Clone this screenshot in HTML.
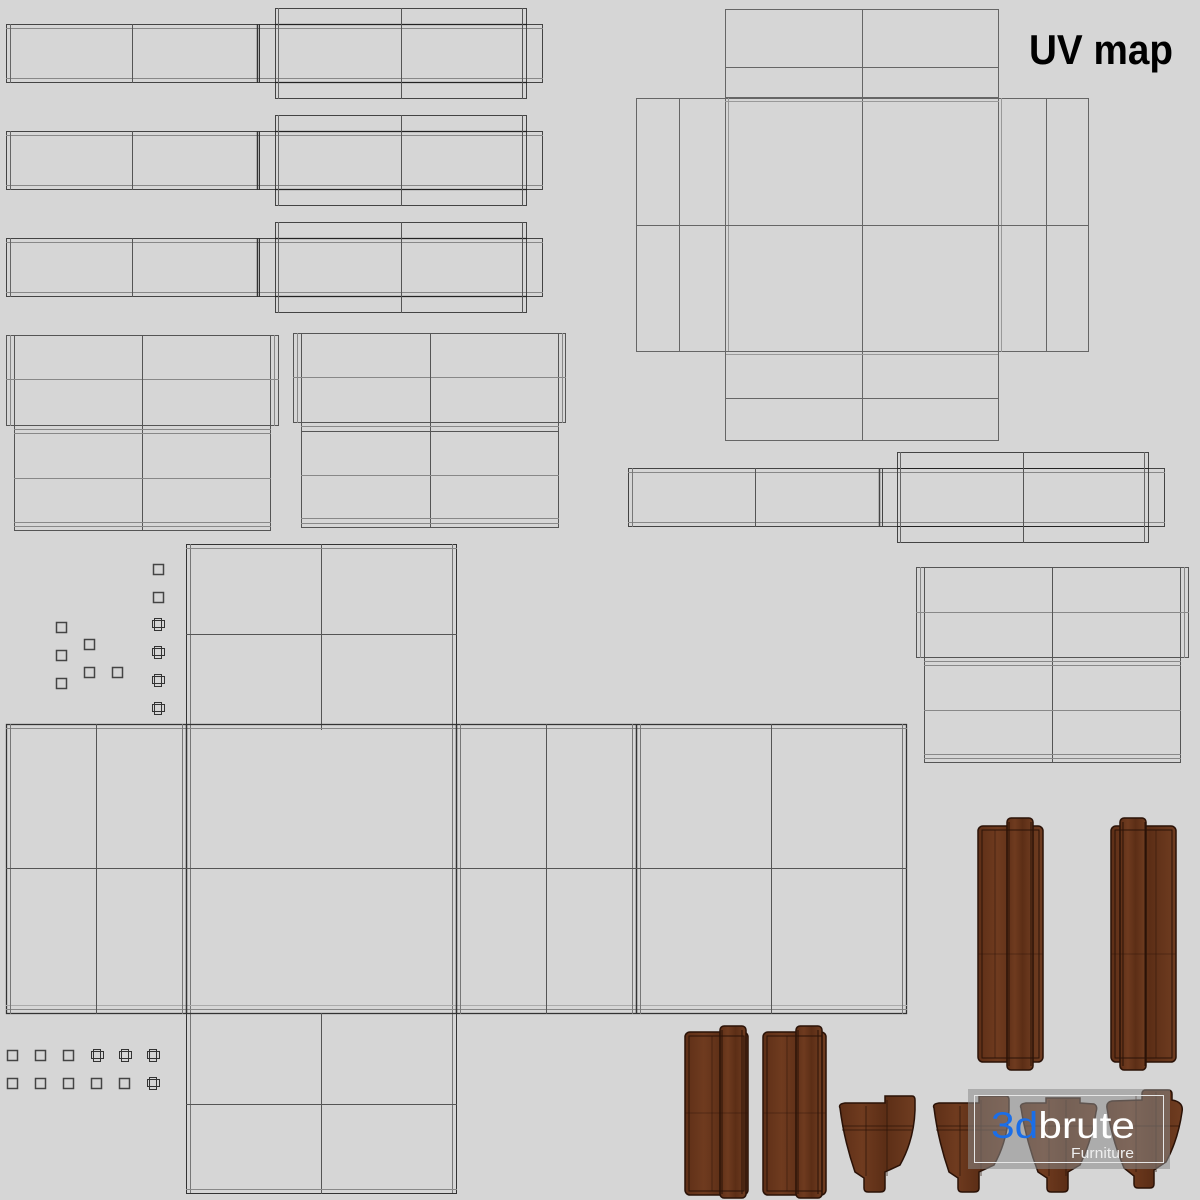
<!DOCTYPE html>
<html><head><meta charset="utf-8"><style>
html,body{margin:0;padding:0;background:#d6d6d6;}
svg{display:block}
</style></head><body>
<svg width="1200" height="1200" viewBox="0 0 1200 1200" xmlns="http://www.w3.org/2000/svg">
<defs>
<linearGradient id="wood" x1="0" y1="0" x2="1" y2="0">
<stop offset="0" stop-color="#5e2f17"/><stop offset="0.3" stop-color="#6f3b1f"/><stop offset="0.6" stop-color="#5c2e16"/><stop offset="1" stop-color="#703d21"/>
</linearGradient>
<g id="bar">
 <rect x="6.5" y="24.5" width="536" height="58" fill="none" stroke="#444"/>
 <line x1="6" y1="28.5" x2="543" y2="28.5" stroke="#888"/>
 <line x1="6" y1="78.5" x2="543" y2="78.5" stroke="#888"/>
 <line x1="10.5" y1="24" x2="10.5" y2="83" stroke="#666"/>
 <line x1="132.5" y1="24" x2="132.5" y2="83" stroke="#555"/>
 <line x1="257.5" y1="24" x2="257.5" y2="83" stroke="#333" stroke-width="1.5"/>
 <line x1="259.5" y1="24" x2="259.5" y2="83" stroke="#333"/>
 <rect x="275.5" y="8.5" width="251" height="90" fill="none" stroke="#444"/>
 <line x1="275" y1="24.5" x2="527" y2="24.5" stroke="#222" stroke-width="1.2"/>
 <line x1="275" y1="82.5" x2="527" y2="82.5" stroke="#222" stroke-width="1.2"/>
 <line x1="278.5" y1="8" x2="278.5" y2="99" stroke="#666"/>
 <line x1="522.5" y1="8" x2="522.5" y2="99" stroke="#555"/>
 <line x1="401.5" y1="8" x2="401.5" y2="99" stroke="#555"/>
</g>
<g id="sq"><rect x="0.5" y="0.5" width="10" height="10" fill="none" stroke="#444" stroke-width="1.5"/></g>
<g id="plus"><rect x="2.5" y="0.5" width="7" height="12" fill="none" stroke="#333"/><rect x="0.5" y="2.5" width="12" height="7" fill="none" stroke="#333"/></g>
</defs>
<rect width="1200" height="1200" fill="#d6d6d6"/>
<g fill="none">
<use href="#bar"/>
<use href="#bar" y="107"/>
<use href="#bar" y="214"/>

<g stroke="#666">
<rect x="725.5" y="9.5" width="273" height="88"/>
<line x1="725" y1="67.5" x2="999" y2="67.5"/>
<line x1="862.5" y1="9" x2="862.5" y2="441"/>
<rect x="636.5" y="98.5" width="452" height="253"/>
<line x1="679.5" y1="98" x2="679.5" y2="352"/>
<line x1="1046.5" y1="98" x2="1046.5" y2="352"/>
<line x1="725.5" y1="98" x2="725.5" y2="352"/>
<line x1="728.5" y1="98" x2="728.5" y2="352" stroke="#999"/>
<line x1="998.5" y1="98" x2="998.5" y2="352"/>
<line x1="1001.5" y1="98" x2="1001.5" y2="352" stroke="#999"/>
<line x1="636" y1="225.5" x2="1089" y2="225.5"/>
<line x1="725" y1="101.5" x2="999" y2="101.5" stroke="#999"/>
<line x1="725" y1="354.5" x2="999" y2="354.5" stroke="#999"/>
<rect x="725.5" y="351.5" width="273" height="89"/>
<line x1="725" y1="398.5" x2="999" y2="398.5"/>
</g>

<g stroke="#555">
<rect x="6.5" y="335.5" width="272" height="90"/>
<line x1="10.5" y1="335" x2="10.5" y2="426" stroke="#888"/>
<line x1="14.5" y1="335" x2="14.5" y2="426"/>
<line x1="270.5" y1="335" x2="270.5" y2="426"/>
<line x1="274.5" y1="335" x2="274.5" y2="426" stroke="#888"/>
<line x1="6" y1="379.5" x2="279" y2="379.5" stroke="#888"/>
<line x1="142.5" y1="335" x2="142.5" y2="531"/>
<rect x="14.5" y="425.5" width="256" height="105"/>
<line x1="14" y1="429.5" x2="271" y2="429.5" stroke="#888"/>
<line x1="14" y1="433.5" x2="271" y2="433.5" stroke="#888"/>
<line x1="14" y1="478.5" x2="271" y2="478.5" stroke="#888"/>
<line x1="14" y1="522.5" x2="271" y2="522.5" stroke="#888"/>
<line x1="14" y1="526.5" x2="271" y2="526.5" stroke="#888"/>

<rect x="293.5" y="333.5" width="272" height="89"/>
<line x1="297.5" y1="333" x2="297.5" y2="423" stroke="#888"/>
<line x1="301.5" y1="333" x2="301.5" y2="423"/>
<line x1="558.5" y1="333" x2="558.5" y2="423"/>
<line x1="562.5" y1="333" x2="562.5" y2="423" stroke="#888"/>
<line x1="293" y1="377.5" x2="566" y2="377.5" stroke="#888"/>
<line x1="430.5" y1="333" x2="430.5" y2="528"/>
<rect x="301.5" y="422.5" width="257" height="105"/>
<line x1="301" y1="426.5" x2="559" y2="426.5" stroke="#888"/>
<line x1="301" y1="431.5" x2="559" y2="431.5"/>
<line x1="301" y1="475.5" x2="559" y2="475.5" stroke="#888"/>
<line x1="301" y1="518.5" x2="559" y2="518.5" stroke="#888"/>
<line x1="301" y1="523.5" x2="559" y2="523.5" stroke="#888"/>
</g>

<g stroke="#444">
<rect x="628.5" y="468.5" width="536" height="58"/>
<line x1="628" y1="472.5" x2="1165" y2="472.5" stroke="#888"/>
<line x1="628" y1="522.5" x2="1165" y2="522.5" stroke="#888"/>
<line x1="632.5" y1="468" x2="632.5" y2="527" stroke="#777"/>
<line x1="755.5" y1="468" x2="755.5" y2="527" stroke="#555"/>
<line x1="879.5" y1="468" x2="879.5" y2="527" stroke-width="1.5"/>
<line x1="882.5" y1="468" x2="882.5" y2="527"/>
<rect x="897.5" y="452.5" width="251" height="90"/>
<line x1="897" y1="468.5" x2="1149" y2="468.5" stroke="#222"/>
<line x1="897" y1="526.5" x2="1149" y2="526.5" stroke="#222"/>
<line x1="900.5" y1="452" x2="900.5" y2="543" stroke="#666"/>
<line x1="1144.5" y1="452" x2="1144.5" y2="543" stroke="#666"/>
<line x1="1023.5" y1="452" x2="1023.5" y2="543" stroke="#555"/>
</g>

<g stroke="#555">
<rect x="916.5" y="567.5" width="272" height="90"/>
<line x1="920.5" y1="567" x2="920.5" y2="658" stroke="#888"/>
<line x1="924.5" y1="567" x2="924.5" y2="658"/>
<line x1="1180.5" y1="567" x2="1180.5" y2="658"/>
<line x1="1184.5" y1="567" x2="1184.5" y2="658" stroke="#888"/>
<line x1="916" y1="612.5" x2="1189" y2="612.5" stroke="#888"/>
<line x1="1052.5" y1="567" x2="1052.5" y2="763"/>
<rect x="924.5" y="657.5" width="256" height="105"/>
<line x1="924" y1="661.5" x2="1181" y2="661.5" stroke="#888"/>
<line x1="924" y1="665.5" x2="1181" y2="665.5" stroke="#888"/>
<line x1="924" y1="710.5" x2="1181" y2="710.5" stroke="#888"/>
<line x1="924" y1="754.5" x2="1181" y2="754.5" stroke="#888"/>
<line x1="924" y1="758.5" x2="1181" y2="758.5" stroke="#888"/>
</g>

<g stroke="#333">
<rect x="186.5" y="544.5" width="270" height="180"/>
<line x1="190.5" y1="544" x2="190.5" y2="1194" stroke="#777"/>
<line x1="452.5" y1="544" x2="452.5" y2="1194" stroke="#777"/>
<line x1="321.5" y1="544" x2="321.5" y2="730" stroke="#555"/>
<line x1="186" y1="634.5" x2="457" y2="634.5" stroke="#555"/>
<line x1="186" y1="548.5" x2="457" y2="548.5" stroke="#888"/>
<rect x="6.5" y="724.5" width="900" height="289" stroke-width="1.3"/>
<line x1="6" y1="728.5" x2="907" y2="728.5" stroke="#888"/>
<line x1="6" y1="1009.5" x2="907" y2="1009.5" stroke="#888"/>
<line x1="6" y1="1005.5" x2="907" y2="1005.5" stroke="#aaa"/>
<line x1="10.5" y1="724" x2="10.5" y2="1014" stroke="#777"/>
<line x1="96.5" y1="724" x2="96.5" y2="1014" stroke="#555"/>
<line x1="182.5" y1="724" x2="182.5" y2="1014" stroke="#777"/>
<line x1="186.5" y1="724" x2="186.5" y2="1014" stroke-width="1.5"/>
<line x1="456.5" y1="724" x2="456.5" y2="1014" stroke-width="1.5"/>
<line x1="460.5" y1="724" x2="460.5" y2="1014" stroke="#777"/>
<line x1="546.5" y1="724" x2="546.5" y2="1014" stroke="#555"/>
<line x1="632.5" y1="724" x2="632.5" y2="1014" stroke="#777"/>
<line x1="636.5" y1="724" x2="636.5" y2="1014" stroke-width="1.5"/>
<line x1="640.5" y1="724" x2="640.5" y2="1014" stroke="#777"/>
<line x1="771.5" y1="724" x2="771.5" y2="1014" stroke="#555"/>
<line x1="902.5" y1="724" x2="902.5" y2="1014" stroke="#777"/>
<line x1="6" y1="868.5" x2="907" y2="868.5" stroke="#555"/>
<rect x="186.5" y="1013.5" width="270" height="180"/>
<line x1="321.5" y1="1013" x2="321.5" y2="1194" stroke="#555"/>
<line x1="186" y1="1104.5" x2="457" y2="1104.5" stroke="#555"/>
<line x1="186" y1="1189.5" x2="457" y2="1189.5" stroke="#888"/>
</g>
</g>

<use href="#sq" x="153" y="564"/>
<use href="#sq" x="153" y="592"/>
<use href="#plus" x="152" y="618"/>
<use href="#plus" x="152" y="646"/>
<use href="#plus" x="152" y="674"/>
<use href="#plus" x="152" y="702"/>
<use href="#sq" x="56" y="622"/>
<use href="#sq" x="56" y="650"/>
<use href="#sq" x="56" y="678"/>
<use href="#sq" x="84" y="639"/>
<use href="#sq" x="84" y="667"/>
<use href="#sq" x="112" y="667"/>
<use href="#sq" x="7" y="1050"/><use href="#sq" x="35" y="1050"/><use href="#sq" x="63" y="1050"/>
<use href="#plus" x="91" y="1049"/><use href="#plus" x="119" y="1049"/><use href="#plus" x="147" y="1049"/>
<use href="#sq" x="7" y="1078"/><use href="#sq" x="35" y="1078"/><use href="#sq" x="63" y="1078"/>
<use href="#sq" x="91" y="1078"/><use href="#sq" x="119" y="1078"/><use href="#plus" x="147" y="1077"/>

<g stroke="#2a1207" stroke-width="1.5">
<g>
<rect x="978" y="826" width="65" height="236" rx="5" fill="url(#wood)"/>
<rect x="1007" y="818" width="26" height="252" rx="4" fill="url(#wood)"/>
<g fill="none" stroke-width="1"><rect x="982" y="830" width="57" height="228"/><line x1="1009" y1="822" x2="1009" y2="1066"/><line x1="1031" y1="822" x2="1031" y2="1066"/><line x1="995" y1="830" x2="995" y2="1058" stroke-opacity=".5"/><line x1="978" y1="954" x2="1043" y2="954" stroke-opacity=".4"/></g>
</g>
<g>
<rect x="1111" y="826" width="65" height="236" rx="5" fill="url(#wood)"/>
<rect x="1120" y="818" width="26" height="252" rx="4" fill="url(#wood)"/>
<g fill="none" stroke-width="1"><rect x="1115" y="830" width="57" height="228"/><line x1="1123" y1="822" x2="1123" y2="1066"/><line x1="1145" y1="822" x2="1145" y2="1066"/><line x1="1156" y1="830" x2="1156" y2="1058" stroke-opacity=".5"/><line x1="1111" y1="954" x2="1176" y2="954" stroke-opacity=".4"/></g>
</g>
<g>
<rect x="685" y="1032" width="63" height="163" rx="5" fill="url(#wood)"/>
<rect x="720" y="1026" width="26" height="172" rx="4" fill="url(#wood)"/>
<g fill="none" stroke-width="1"><rect x="689" y="1036" width="55" height="155"/><line x1="722" y1="1030" x2="722" y2="1194"/><line x1="742" y1="1030" x2="742" y2="1194"/><line x1="712" y1="1036" x2="712" y2="1191" stroke-opacity=".5"/><line x1="685" y1="1113" x2="748" y2="1113" stroke-opacity=".4"/></g>
</g>
<g>
<rect x="763" y="1032" width="63" height="163" rx="5" fill="url(#wood)"/>
<rect x="796" y="1026" width="26" height="172" rx="4" fill="url(#wood)"/>
<g fill="none" stroke-width="1"><rect x="767" y="1036" width="55" height="155"/><line x1="798" y1="1030" x2="798" y2="1194"/><line x1="818" y1="1030" x2="818" y2="1194"/><line x1="787" y1="1036" x2="787" y2="1191" stroke-opacity=".5"/><line x1="763" y1="1113" x2="826" y2="1113" stroke-opacity=".4"/></g>
</g>
<g fill="url(#wood)">
<path d="M840 1108 Q838 1104 845 1103 L885 1103 L885 1096 L912 1096 Q915 1096 915 1100 L915 1110 Q914 1140 900 1165 L885 1172 L885 1188 Q885 1192 880 1192 L868 1192 Q864 1192 864 1188 L864 1178 L855 1172 Q844 1140 840 1108 Z"/>
<path d="M934 1108 Q932 1104 939 1103 L979 1103 L979 1096 L1006 1096 Q1009 1096 1009 1100 L1009 1110 Q1008 1140 994 1165 L979 1172 L979 1188 Q979 1192 974 1192 L962 1192 Q958 1192 958 1188 L958 1178 L949 1172 Q938 1140 934 1108 Z"/>
<path d="M1021 1108 Q1019 1104 1026 1103 L1046 1103 L1046 1098 L1080 1098 L1080 1103 L1094 1104 Q1098 1106 1096 1112 Q1092 1140 1080 1165 L1068 1172 L1068 1188 Q1068 1192 1063 1192 L1051 1192 Q1047 1192 1047 1188 L1047 1178 L1038 1172 Q1026 1140 1021 1108 Z"/>
<path d="M1107 1108 Q1106 1102 1112 1101 L1142 1100 L1142 1094 Q1142 1090 1146 1090 L1168 1090 Q1172 1090 1172 1094 L1172 1100 Q1184 1102 1182 1112 Q1178 1140 1166 1162 L1154 1170 L1154 1184 Q1154 1188 1150 1188 L1138 1188 Q1134 1188 1134 1184 L1134 1176 L1124 1168 Q1112 1140 1107 1108 Z"/>
</g>
<g fill="none" stroke-width="1" stroke-opacity=".7">
<line x1="866" y1="1106" x2="866" y2="1176"/><line x1="887" y1="1100" x2="887" y2="1176"/><line x1="842" y1="1126" x2="913" y2="1126"/><line x1="842" y1="1130" x2="913" y2="1130"/>
<line x1="960" y1="1106" x2="960" y2="1176"/><line x1="981" y1="1100" x2="981" y2="1176"/><line x1="936" y1="1126" x2="1007" y2="1126"/><line x1="936" y1="1130" x2="1007" y2="1130"/>
<line x1="1049" y1="1100" x2="1049" y2="1176"/><line x1="1066" y1="1100" x2="1066" y2="1176"/><line x1="1024" y1="1126" x2="1094" y2="1126"/>
<line x1="1136" y1="1096" x2="1136" y2="1172"/><line x1="1156" y1="1092" x2="1156" y2="1172"/><line x1="1110" y1="1126" x2="1180" y2="1126"/>
</g>
</g>

<rect x="968" y="1089" width="202" height="80" fill="#8a8a8a" fill-opacity="0.55"/>
<rect x="974.5" y="1095.5" width="189" height="67" fill="none" stroke="#e6e6e6" stroke-width="1"/>
<text x="991" y="1138" font-family="Liberation Sans, sans-serif" font-size="37" fill="#fff" textLength="144" lengthAdjust="spacingAndGlyphs"><tspan fill="#1a6ee8">3d</tspan>brute</text>
<text x="1071" y="1158" font-family="Liberation Sans, sans-serif" font-size="15" fill="#eee" textLength="63" lengthAdjust="spacingAndGlyphs">Furniture</text>

<text x="1029" y="64" font-family="Liberation Sans, sans-serif" font-weight="bold" font-size="42" fill="#000" textLength="144" lengthAdjust="spacingAndGlyphs">UV map</text>
</svg>
</body></html>
